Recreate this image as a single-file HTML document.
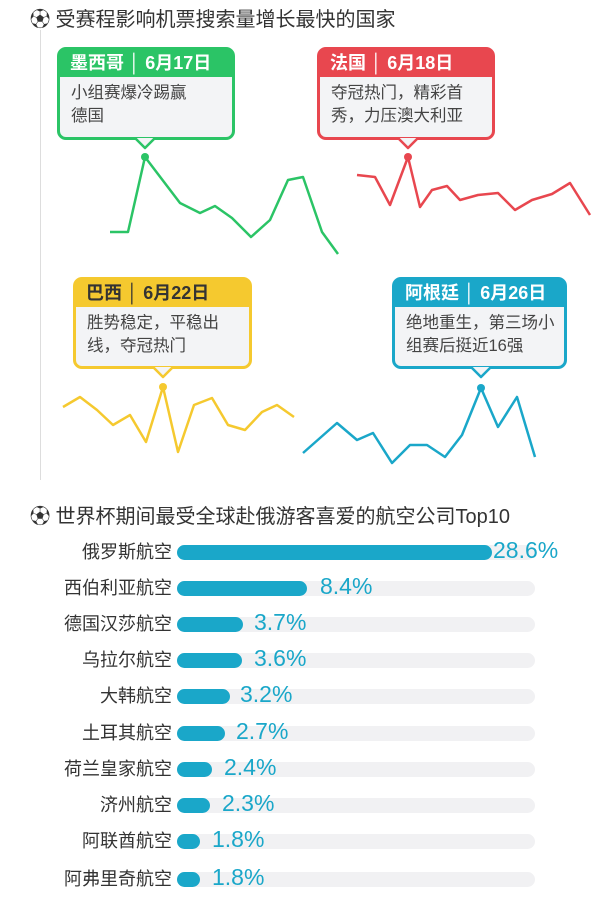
<!DOCTYPE html>
<html><head><meta charset="utf-8"><style>
body{margin:0;width:600px;height:900px;background:#fff;position:relative;overflow:hidden;font-family:"Liberation Sans","Noto Sans CJK SC",sans-serif;}
.t{position:absolute;font-size:20px;color:#333;font-weight:normal;white-space:nowrap}
.box{position:absolute;border:3px solid;border-radius:9px;background:#f3f4f6;box-sizing:border-box}
.box .h{height:27px;line-height:27px;font-size:18px;font-weight:bold;color:#fff;padding-left:10px;white-space:nowrap}
.box .b{font-size:16.5px;color:#444;padding:5px 11px;line-height:23px;white-space:nowrap}
.row{position:absolute;left:0;width:600px;height:20px}
.lab{position:absolute;right:428px;top:-4px;font-size:18px;color:#333;white-space:nowrap}
.trk{position:absolute;left:177px;top:3px;width:358px;height:15px;border-radius:8px;background:#f1f1f3}
.bar{position:absolute;left:177px;top:3px;height:15px;border-radius:8px;background:#1aa7c9}
.v{position:absolute;top:-5px;font-size:23px;color:#1aa7c9;white-space:nowrap}
</style></head><body>
<div style="position:absolute;left:40px;top:30px;width:1px;height:450px;background:#ddd"></div>
<div class="t" style="left:30px;top:3px">⚽ 受赛程影响机票搜索量增长最快的国家</div>

<div class="box" style="left:57px;top:47px;width:178px;height:93px;border-color:#2bc466"><div class="h" style="background:#2bc466">墨西哥 │ 6月17日</div><div class="b">小组赛爆冷踢赢<br>德国</div></div>
<div class="box" style="left:317px;top:47px;width:178px;height:93px;border-color:#e8474f"><div class="h" style="background:#e8474f">法国 │ 6月18日</div><div class="b">夺冠热门，精彩首<br>秀，力压澳大利亚</div></div>
<div class="box" style="left:73px;top:277px;width:179px;height:92px;border-color:#f5c92f"><div class="h" style="background:#f5c92f;color:#333">巴西 │ 6月22日</div><div class="b">胜势稳定，平稳出<br>线，夺冠热门</div></div>
<div class="box" style="left:392px;top:277px;width:175px;height:92px;border-color:#1aa7c9"><div class="h" style="background:#1aa7c9">阿根廷 │ 6月26日</div><div class="b">绝地重生，第三场小<br>组赛后挺近16强</div></div>

<svg width="600" height="480" style="position:absolute;left:0;top:0" fill="none" stroke-width="2.5" stroke-linejoin="round">
<polyline stroke="#2bc466" points="110,232 128,232 145,157 180,203 200,213 215,206 232,218 251,237 270,220 288,180 303,177 322,232 338,254"/>
<circle cx="145" cy="157" r="4" fill="#2bc466" stroke="none"/>
<polyline stroke="#2bc466" fill="#f3f4f6" points="135,138 145,148 155,138"/>
<polyline stroke="#e8474f" points="357,175 375,177 390,205 408,157 420,207 432,190 447,186 460,200 478,195 498,193 515,210 532,200 552,194 570,183 590,215"/>
<circle cx="408" cy="157" r="4" fill="#e8474f" stroke="none"/>
<polyline stroke="#e8474f" fill="#f3f4f6" points="398,138 408,148 418,138"/>
<polyline stroke="#f5c92f" points="63,407 80,397 97,410 113,425 130,415 146,442 163,387 178,452 194,405 212,398 228,425 245,430 262,412 277,405 294,417"/>
<circle cx="163" cy="387" r="4" fill="#f5c92f" stroke="none"/>
<polyline stroke="#f5c92f" fill="#f3f4f6" points="153,367 163,377 173,367"/>
<polyline stroke="#1aa7c9" points="303,453 337,423 357,440 373,433 392,463 410,445 427,445 445,457 462,435 481,388 498,427 517,397 535,457"/>
<circle cx="481" cy="388" r="4" fill="#1aa7c9" stroke="none"/>
<polyline stroke="#1aa7c9" fill="#f3f4f6" points="471,367 481,377 491,367"/>
</svg>

<div class="t" style="left:30px;top:500px">⚽ 世界杯期间最受全球赴俄游客喜爱的航空公司Top10</div>

<div class="row" style="top:542px"><div class="lab">俄罗斯航空</div><div class="trk"></div><div class="bar" style="width:315px"></div><div class="v" style="left:493px">28.6%</div></div>
<div class="row" style="top:578px"><div class="lab">西伯利亚航空</div><div class="trk"></div><div class="bar" style="width:130px"></div><div class="v" style="left:320px">8.4%</div></div>
<div class="row" style="top:614px"><div class="lab">德国汉莎航空</div><div class="trk"></div><div class="bar" style="width:66px"></div><div class="v" style="left:254px">3.7%</div></div>
<div class="row" style="top:650px"><div class="lab">乌拉尔航空</div><div class="trk"></div><div class="bar" style="width:65px"></div><div class="v" style="left:254px">3.6%</div></div>
<div class="row" style="top:686px"><div class="lab">大韩航空</div><div class="trk"></div><div class="bar" style="width:53px"></div><div class="v" style="left:240px">3.2%</div></div>
<div class="row" style="top:723px"><div class="lab">土耳其航空</div><div class="trk"></div><div class="bar" style="width:48px"></div><div class="v" style="left:236px">2.7%</div></div>
<div class="row" style="top:759px"><div class="lab">荷兰皇家航空</div><div class="trk"></div><div class="bar" style="width:35px"></div><div class="v" style="left:224px">2.4%</div></div>
<div class="row" style="top:795px"><div class="lab">济州航空</div><div class="trk"></div><div class="bar" style="width:33px"></div><div class="v" style="left:222px">2.3%</div></div>
<div class="row" style="top:831px"><div class="lab">阿联酋航空</div><div class="trk"></div><div class="bar" style="width:23px"></div><div class="v" style="left:212px">1.8%</div></div>
<div class="row" style="top:869px"><div class="lab">阿弗里奇航空</div><div class="trk"></div><div class="bar" style="width:23px"></div><div class="v" style="left:212px">1.8%</div></div>
</body></html>
